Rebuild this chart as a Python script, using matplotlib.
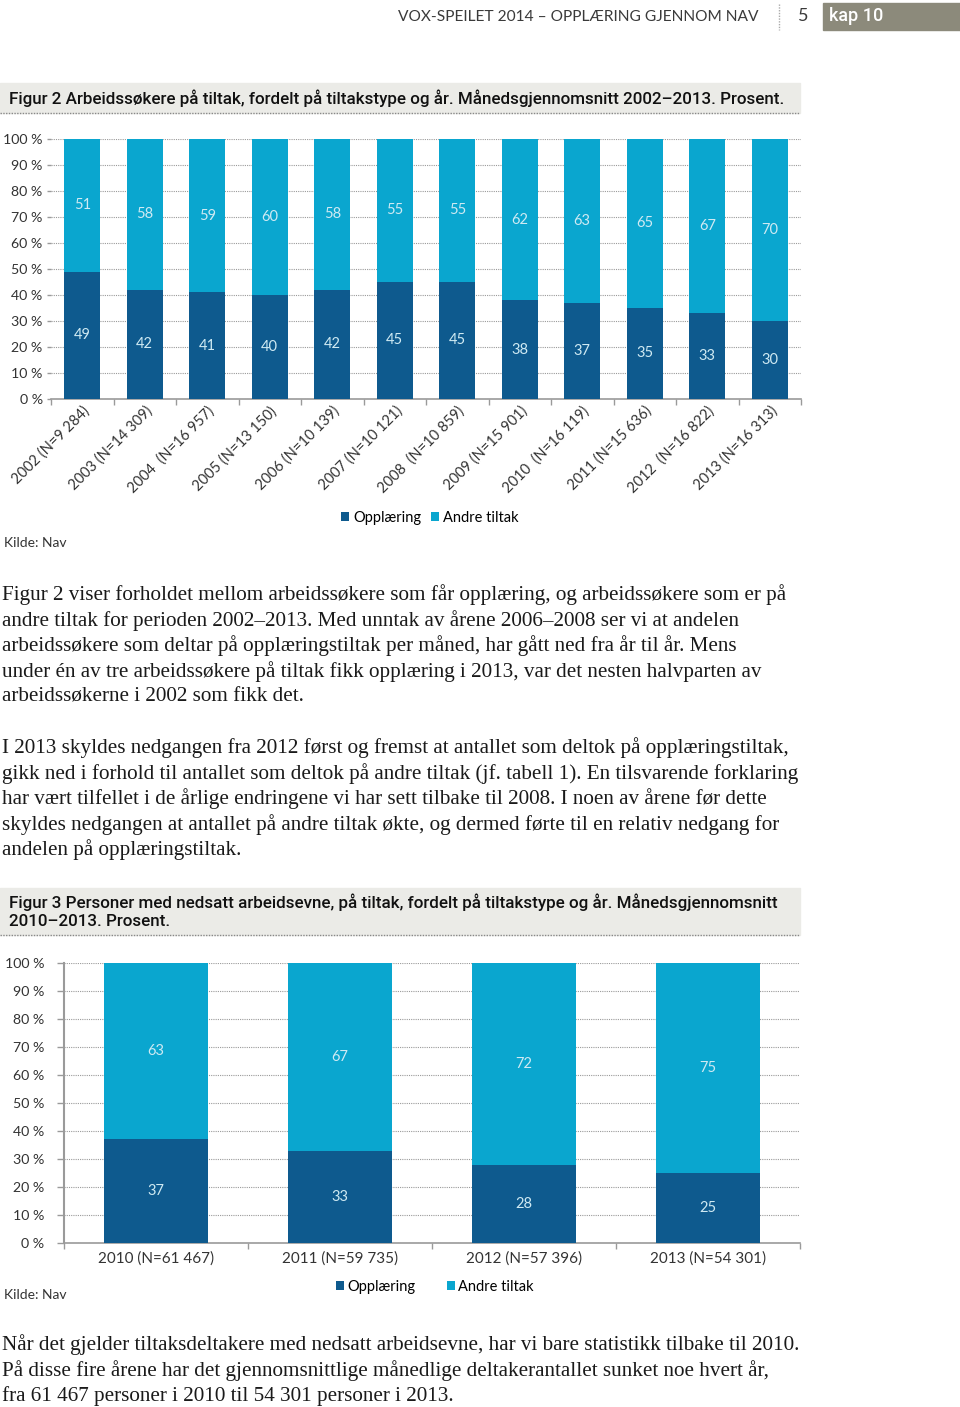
import matplotlib.pyplot as plt
from matplotlib.patches import Rectangle
from matplotlib.lines import Line2D

# data, figur 2
years2 = ['2002 (N=9 284)', '2003 (N=14 309)', '2004  (N=16 957)', '2005 (N=13 150)',
          '2006 (N=10 139)', '2007 (N=10 121)', '2008  (N=10 859)', '2009 (N=15 901)',
          '2010  (N=16 119)', '2011 (N=15 636)', '2012  (N=16 822)', '2013 (N=16 313)']
oppl2 = [49, 42, 41, 40, 42, 45, 45, 38, 37, 35, 33, 30]
andre2 = [51, 58, 59, 60, 58, 55, 55, 62, 63, 65, 67, 70]

# data, figur 3
years3 = ['2010 (N=61 467)', '2011 (N=59 735)', '2012 (N=57 396)', '2013 (N=54 301)']
oppl3 = [37, 33, 28, 25]
andre3 = [63, 67, 72, 75]

yticks = [0, 10, 20, 30, 40, 50, 60, 70, 80, 90, 100]
ylabels = [f'{t} %' for t in yticks]
series = ['Opplæring', 'Andre tiltak']

DARK = '#0e5a8e'
LIGHT = '#0aa6cf'
LBL = '#cfeaf3'
GRID = '#9a9a9a'
TXT = '#333333'
SANS = 'Lato'
SERIF = 'Liberation Serif'

W, H = 960, 1407
fig = plt.figure(figsize=(9.6, 14.07), dpi=100)


def fx(x):
    return x / W


def fy(y):
    return 1 - y / H


def title_box(y0, y1, lines):
    fig.patches.append(Rectangle((0, fy(y1)), fx(800), (y1 - y0) / H,
                                 transform=fig.transFigure, color='#ebebe7', zorder=0))
    fig.lines.append(Line2D([0, fx(800)], [fy(y1), fy(y1)], transform=fig.transFigure,
                            color='#888888', lw=1, ls=(0, (1, 1))))
    for y, s in lines:
        fig.text(fx(9), fy(y), s, fontsize=12.25, family='Roboto', fontweight='medium',
                 color='#111111', va='center', ha='left')


def stacked(ax, labels, a, b, width, spine_left, tlen, pad, legpos, colsp):
    x = list(range(len(labels)))
    ax.bar(x, a, width=width, color=DARK, zorder=3, label=series[0])
    ax.bar(x, b, width=width, bottom=a, color=LIGHT, zorder=3, label=series[1])
    for i in x:
        ax.text(i, a[i] / 2, str(a[i]), ha='center', va='center', color=LBL,
                fontsize=10.5, family=SANS, zorder=4)
        ax.text(i, a[i] + b[i] / 2, str(b[i]), ha='center', va='center', color=LBL,
                fontsize=10.5, family=SANS, zorder=4)
    ax.set_xlim(-0.5, len(labels) - 0.5)
    ax.set_ylim(0, 100)
    ax.set_yticks(yticks)
    ax.set_yticklabels(ylabels, family=SANS, fontsize=10.2, color=TXT)
    ax.yaxis.grid(True, color=GRID, lw=0.8, ls=(0, (1, 1)), zorder=0)
    ax.set_axisbelow(True)
    ax.set_xticks(x)
    ax.set_xticks([i - 0.5 for i in range(len(labels) + 1)], minor=True)
    ax.tick_params(axis='x', which='major', length=0)
    ax.tick_params(axis='x', which='minor', length=4, color=GRID, width=1)
    ax.tick_params(axis='y', length=tlen, color=GRID, width=1, pad=pad)
    for s in ['top', 'right']:
        ax.spines[s].set_visible(False)
    ax.spines['left'].set_visible(spine_left)
    ax.spines['left'].set_color(GRID)
    ax.spines['left'].set_linewidth(1.5)
    ax.spines['bottom'].set_color(GRID)
    ax.spines['bottom'].set_linewidth(1.2)
    ax.legend(loc='center', frameon=False, ncol=2, prop={'family': SANS, 'size': 10.5},
              handlelength=0.55, handleheight=0.55, handletextpad=0.25,
              columnspacing=colsp, bbox_to_anchor=(fx(legpos[0]), fy(legpos[1])),
              bbox_transform=fig.transFigure, borderpad=0)
    return ax


# header
fig.text(fx(758), fy(17), 'VOX-SPEILET 2014 – OPPLÆRING GJENNOM NAV', ha='right', va='center',
         fontsize=11.2, family=SANS, color='#3a3a3a')
fig.lines.append(Line2D([fx(779), fx(779)], [fy(4), fy(30)], transform=fig.transFigure,
                        color='#aaaaaa', lw=1, ls=(0, (1, 1))))
fig.text(fx(803), fy(16), '5', ha='center', va='center', fontsize=13, family=SANS,
         color='#3a3a3a')
fig.patches.append(Rectangle((fx(823), fy(30)), fx(137), 27 / H, transform=fig.transFigure,
                             color='#8c8a7b', zorder=0))
fig.text(fx(829), fy(16), 'kap 10', ha='left', va='center', fontsize=13, family='Roboto',
         fontweight='medium', color='white')

# figur 2
title_box(83, 113, [(98, 'Figur 2 Arbeidssøkere på tiltak, fordelt på tiltakstype og år. '
                         'Månedsgjennomsnitt 2002–2013. Prosent.')])
ax1 = fig.add_axes([fx(51), fy(399), 750 / W, 260 / H])
stacked(ax1, years2, oppl2, andre2, 0.58, False, 3, 3, (430, 518), 0.7)
ax1.set_xticklabels(years2, rotation=45, ha='right', rotation_mode='anchor',
                    family=SANS, fontsize=10.5, color=TXT)
fig.text(fx(4), fy(543), 'Kilde: Nav', fontsize=10, family=SANS, color=TXT, va='center')

p1 = ['Figur 2 viser forholdet mellom arbeidssøkere som får opplæring, og arbeidssøkere som er på',
      'andre tiltak for perioden 2002–2013. Med unntak av årene 2006–2008 ser vi at andelen',
      'arbeidssøkere som deltar på opplæringstiltak per måned, har gått ned fra år til år. Mens',
      'under én av tre arbeidssøkere på tiltak fikk opplæring i 2013, var det nesten halvparten av',
      'arbeidssøkerne i 2002 som fikk det.']
p2 = ['I 2013 skyldes nedgangen fra 2012 først og fremst at antallet som deltok på opplæringstiltak,',
      'gikk ned i forhold til antallet som deltok på andre tiltak (jf. tabell 1). En tilsvarende forklaring',
      'har vært tilfellet i de årlige endringene vi har sett tilbake til 2008. I noen av årene før dette',
      'skyldes nedgangen at antallet på andre tiltak økte, og dermed førte til en relativ nedgang for',
      'andelen på opplæringstiltak.']
p3 = ['Når det gjelder tiltaksdeltakere med nedsatt arbeidsevne, har vi bare statistikk tilbake til 2010.',
      'På disse fire årene har det gjennomsnittlige månedlige deltakerantallet sunket noe hvert år,',
      'fra 61 467 personer i 2010 til 54 301 personer i 2013.']


def para(lines, y0):
    for i, s in enumerate(lines):
        fig.text(fx(2), fy(y0 + i * 25.4), s, fontsize=15.2, family=SERIF,
                 color='#1a1a1a', va='center', ha='left')


para(p1, 595)
para(p2, 748)

# figur 3
title_box(888, 935, [(902, 'Figur 3 Personer med nedsatt arbeidsevne, på tiltak, fordelt på '
                           'tiltakstype og år. Månedsgjennomsnitt'),
                     (921, '2010–2013. Prosent.')])
ax2 = fig.add_axes([fx(64), fy(1243), 736 / W, 280 / H])
stacked(ax2, years3, oppl3, andre3, 0.57, True, 5, 9, (435, 1287), 2.1)
ax2.set_xticklabels(years3, family=SANS, fontsize=11, color=TXT)
ax2.tick_params(axis='x', which='major', pad=6)
fig.text(fx(4), fy(1295), 'Kilde: Nav', fontsize=10, family=SANS, color=TXT, va='center')

para(p3, 1345)

fig.savefig('out.png', dpi=100)
